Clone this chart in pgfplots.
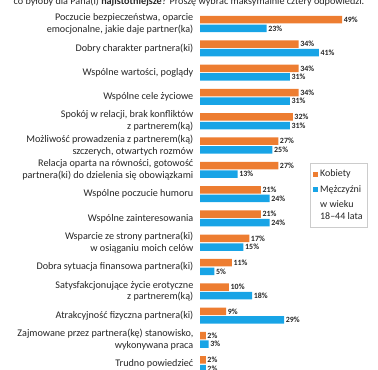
\documentclass[border=0pt]{standalone}
\usepackage{pgfplots}
\pgfplotsset{compat=1.18}
\usepackage{fontspec}
\setmainfont{Carlito}
\definecolor{cOr}{HTML}{ED7D31}
\definecolor{cBl}{HTML}{18A4E6}
\begin{document}
\begin{tikzpicture}[x=1bp,y=1bp]
\path[use as bounding box] (0,0) rectangle (378,-370);
\node[anchor=base, font=\fontsize{10.2}{12}\selectfont, inner sep=0, text=black!85] at (189,-4) {co byłoby dla Pana(i) \textbf{najistotniejsze}? Proszę wybrać maksymalnie cztery odpowiedzi.};
\begin{axis}[
  at={(200bp,-376.35bp)}, anchor=south west,
  scale only axis, width=174bp, height=364.5bp,
  xbar, bar width=7.5bp,
  xmin=0, xmax=60, ymin=0.5, ymax=15.5,
  axis line style={draw=none}, major tick length=0pt,
  xtick=\empty,
  ytick={1,...,15},
  yticklabels={
    {Trudno powiedzieć},
    {Zajmowane przez partnera(kę) stanowisko,\\wykonywana praca},
    {Atrakcyjność fizyczna partnera(ki)},
    {Satysfakcjonujące życie erotyczne\\z partnerem(ką)},
    {Dobra sytuacja finansowa partnera(ki)},
    {Wsparcie ze strony partnera(ki)\\w osiąganiu moich celów},
    {Wspólne zainteresowania},
    {Wspólne poczucie humoru},
    {Relacja oparta na równości, gotowość\\partnera(ki) do dzielenia się obowiązkami},
    {Możliwość prowadzenia z partnerem(ką)\\szczerych, otwartych rozmów},
    {Spokój w relacji, brak konfliktów\\z partnerem(ką)},
    {Wspólne cele życiowe},
    {Wspólne wartości, poglądy},
    {Dobry charakter partnera(ki)},
    {Poczucie bezpieczeństwa, oparcie\\emocjonalne, jakie daje partner(ka)}},
  yticklabel style={align=right, font=\fontsize{10.2}{12}\selectfont, inner sep=0pt, xshift=-6.5bp, text=black!85},
  /pgf/number format/assume math mode=true,
  nodes near coords={\pgfmathprintnumber\pgfplotspointmeta\%},
  nodes near coords style={font=\fontsize{8}{9}\selectfont\bfseries, inner sep=1.5bp, text=black!85},
  every node near coord/.append style={anchor=west},
  legend style={at={(0.632,0.585)}, anchor=north west, draw=black!20, font=\fontsize{10}{12}\selectfont, text=black!85, cells={anchor=west, align=left}, inner xsep=3bp, inner ysep=4.5bp, row sep=3bp},
  legend image code/.code={\fill[#1] (0bp,-2.5bp) rectangle (5bp,2.5bp);},
]
\addplot[fill=cOr, draw=none, bar shift=4.3bp] coordinates {
 (2,1) (2,2) (9,3) (10,4) (11,5) (17,6) (21,7) (21,8) (27,9) (27,10) (32,11) (34,12) (34,13) (34,14) (49,15)};
\addlegendentry{Kobiety}
\addplot[fill=cBl, draw=none, bar shift=-4.3bp] coordinates {
 (2,1) (3,2) (29,3) (18,4) (5,5) (15,6) (24,7) (24,8) (13,9) (25,10) (31,11) (31,12) (31,13) (41,14) (23,15)};
\addlegendentry{Mężczyźni}
\addlegendimage{empty legend}
\addlegendentry{w wieku\\18–44 lata}
\end{axis}
\end{tikzpicture}
\end{document}
